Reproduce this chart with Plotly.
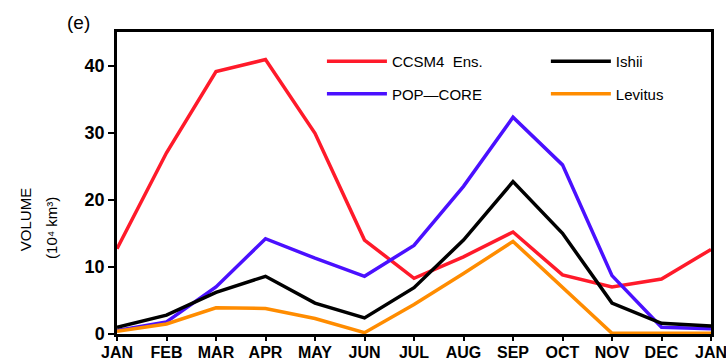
import plotly.graph_objects as go

# Monthly climatology (Jan..Dec, then Jan repeated to close the cycle)
months = ["JAN", "FEB", "MAR", "APR", "MAY", "JUN", "JUL", "AUG", "SEP", "OCT", "NOV", "DEC", "JAN"]
ccsm4 = [12.7, 27.0, 39.1, 40.9, 29.9, 14.0, 8.3, 11.5, 15.2, 8.8, 7.0, 8.2, 12.6]
pop_core = [0.5, 1.8, 7.0, 14.2, 11.3, 8.6, 13.2, 22.0, 32.3, 25.2, 8.7, 1.0, 0.8]
ishii = [1.0, 2.8, 6.2, 8.6, 4.6, 2.4, 6.9, 14.0, 22.7, 15.0, 4.6, 1.6, 1.2]
levitus = [0.4, 1.5, 3.9, 3.8, 2.3, 0.2, 4.4, 9.0, 13.8, 7.0, 0.1, 0.1, 0.1]

x = list(range(len(months)))
tick_font = dict(family="Liberation Sans, Arial", size=16, color="black")

fig = go.Figure()
series = [
    ("CCSM4  Ens.", ccsm4, "#ff1a2a", "legend"),
    ("POP\u2014CORE", pop_core, "#4a10ff", "legend"),
    ("Ishii", ishii, "#000000", "legend2"),
    ("Levitus", levitus, "#ff8c00", "legend2"),
]
for name, vals, color, leg in series:
    fig.add_trace(go.Scatter(x=x, y=vals, mode="lines", name=name, legendgroup=name,
                             line=dict(color=color, width=3.5), legend=leg))

legend_style = dict(font=dict(family="Liberation Sans, Arial", size=15, color="black"),
                    bgcolor="rgba(0,0,0,0)", yanchor="top", xanchor="left",
                    tracegroupgap=10, itemwidth=60)
fig.update_layout(
    width=726, height=363,
    margin=dict(l=117, r=15, t=32, b=29, autoexpand=False),
    paper_bgcolor="white", plot_bgcolor="white",
    legend=dict(x=0.345, y=0.957, **legend_style),
    legend2=dict(x=0.722, y=0.957, **legend_style),
    xaxis=dict(range=[0, 12], tickvals=x, ticktext=[f"<b>{m}</b>" for m in months],
               tickfont=tick_font, showgrid=False, zeroline=False, automargin=False,
               ticklabeloverflow="allow", ticklabelstandoff=-2,
               showline=True, linecolor="black", linewidth=2.5, mirror=True,
               ticks="outside", ticklen=4, tickwidth=2, tickcolor="black"),
    yaxis=dict(range=[0, 45], tickvals=[0, 10, 20, 30, 40],
               ticktext=[f"<b>{v}</b>" for v in [0, 10, 20, 30, 40]],
               tickfont=dict(tick_font, size=18), showgrid=False, zeroline=False, automargin=False,
               showline=True, linecolor="black", linewidth=2.5, mirror=True,
               ticks="outside", ticklen=6, tickwidth=2, tickcolor="black"),
    annotations=[
        dict(text="VOLUME", xref="paper", yref="paper", x=-0.155, y=0.38,
             textangle=-90, showarrow=False, xanchor="center", yanchor="middle",
             font=dict(family="Liberation Sans, Arial", size=15, color="black")),
        dict(text="(10\u2074 km\u00b3)", xref="paper", yref="paper", x=-0.11, y=0.35,
             textangle=-90, showarrow=False, xanchor="center", yanchor="middle",
             font=dict(family="Liberation Sans, Arial", size=15, color="black")),
        dict(text="(e)", xref="paper", yref="paper", x=-0.065, y=1.03,
             showarrow=False, xanchor="center", yanchor="middle",
             font=dict(family="Liberation Sans, Arial", size=19, color="black")),
    ],
)

fig.write_html("out.html")
